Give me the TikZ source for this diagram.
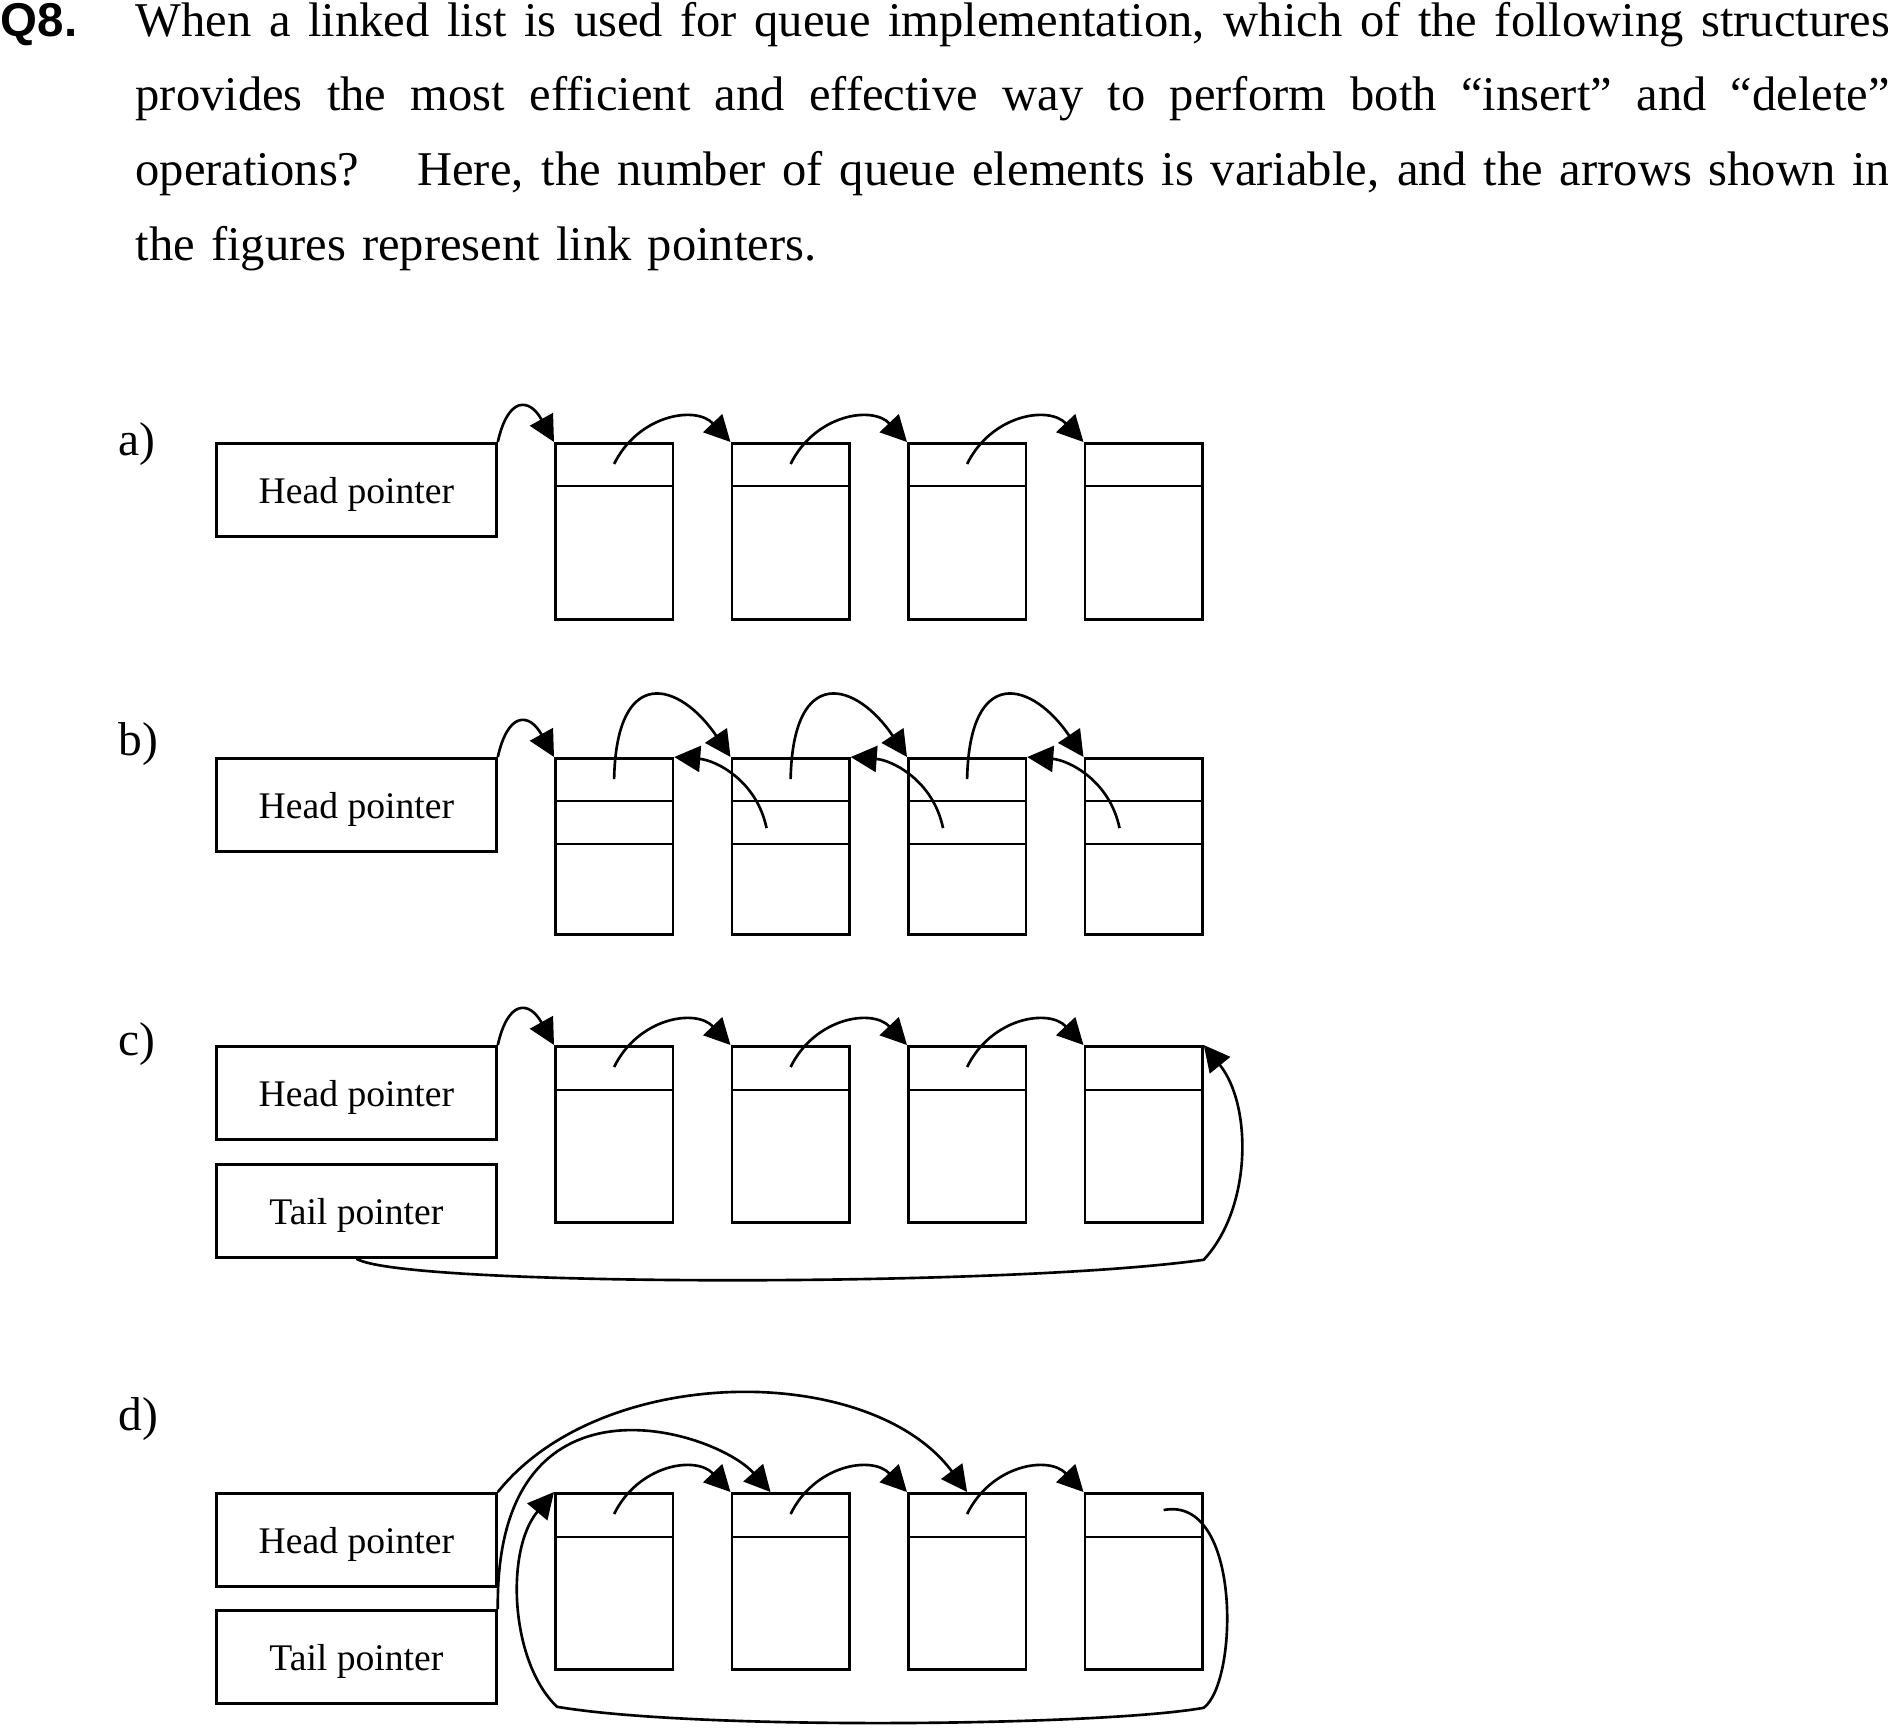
\documentclass[tikz,border=0pt]{standalone}
\usepackage{fontspec}
\setmainfont{Liberation Serif}
\newfontfamily\qfont{Liberation Sans}
\usepackage{tikz}
\usetikzlibrary{arrows.meta}

\tikzset{
  ptrbox/.style={draw, line width=0.75pt, minimum width=2.8cm, minimum height=0.93cm, anchor=north west,
    font=\fontsize{10.7}{12}\selectfont, text height=0.75em, text depth=0pt},
  elem/.style={draw, line width=0.75pt, minimum width=1.175cm, minimum height=1.76cm, anchor=north west, inner sep=0pt},
  link/.style={line width=0.75pt, -{Triangle[length=2.6mm,width=2.6mm]}},
  lbl/.style={anchor=base west, inner sep=0pt, font=\fontsize{13.5}{16}\selectfont},
}
\newcommand{\qline}[1]{\makebox[17.53cm][s]{\spaceskip=0.25em plus 1em minus 0.05em\xspaceskip=0.3em plus 1em minus 0.05em #1}}

\begin{document}
\begin{tikzpicture}[x=0.01cm, y=-0.01cm]
\useasboundingbox (0,0) rectangle (1888,1732);
% question
\node[anchor=base west, inner sep=0pt, font=\qfont\bfseries\fontsize{13.5}{16}\selectfont] (qnum) at (0,36.7) {Q8.};
\node[anchor=base west, inner sep=0pt, text width=17.53cm, align=left, font=\fontsize{13.8}{21.25}\selectfont] (qtext) at (135,36) {%
\qline{When a linked list is used for queue implementation, which of the following structures}\\
\qline{provides the most efficient and effective way to perform both “insert” and “delete”}\\
\qline{operations?\hspace{0.8em} Here, the number of queue elements is variable, and the arrows shown in}\\
the figures represent link pointers.};

% a)
\node[lbl] (labA) at (118,455) {a)};
\node[ptrbox] (headA) at (215,442) {Head pointer};
\foreach \i in {1,...,4} {
  \node[elem] (a\i) at ({554+176.5*(\i-1)},442) {};
  \draw[line width=0.75pt] ([yshift=-0.44cm]a\i.north west) -- ([yshift=-0.44cm]a\i.north east);
}
\draw[link] (headA.north east) .. controls +(10,-45) and +(-25,-45) .. (a1.north west);
\foreach \i/\j in {1/2,2/3,3/4}
  \draw[link] ([yshift=-0.22cm]a\i.north) .. controls +(24,-49) and +(-35,-37) .. (a\j.north west);

% b)
\node[lbl] (labB) at (118,755) {b)};
\node[ptrbox] (headB) at (215,757) {Head pointer};
\foreach \i in {1,...,4} {
  \node[elem] (b\i) at ({554+176.5*(\i-1)},757) {};
  \draw[line width=0.75pt] ([yshift=-0.44cm]b\i.north west) -- ([yshift=-0.44cm]b\i.north east);
  \draw[line width=0.75pt] ([yshift=-0.87cm]b\i.north west) -- ([yshift=-0.87cm]b\i.north east);
}
\draw[link] (headB.north east) .. controls +(10,-45) and +(-25,-45) .. (b1.north west);
\foreach \i/\j in {1/2,2/3,3/4} {
  \draw[link] ([yshift=-0.22cm]b\i.north) .. controls +(2.5,-116) and +(-50.5,-75) .. (b\j.north west);
  \draw[link] ([xshift=0.36cm,yshift=-0.71cm]b\j.north west) .. controls +(-10,-48) and +(41,3) .. (b\i.north east);
}

% c)
\node[lbl] (labC) at (118,1055) {c)};
\node[ptrbox] (headC) at (215,1045) {Head pointer};
\node[ptrbox] (tailC) at (215,1163) {Tail pointer};
\foreach \i in {1,...,4} {
  \node[elem] (c\i) at ({554+176.5*(\i-1)},1045) {};
  \draw[line width=0.75pt] ([yshift=-0.45cm]c\i.north west) -- ([yshift=-0.45cm]c\i.north east);
}
\draw[link] (headC.north east) .. controls +(10,-45) and +(-25,-45) .. (c1.north west);
\foreach \i/\j in {1/2,2/3,3/4}
  \draw[link] ([yshift=-0.22cm]c\i.north) .. controls +(24,-49) and +(-35,-37) .. (c\j.north west);
\draw[link] (tailC.south) .. controls +(45,28) and +(-200,28) .. ([yshift=-0.36cm]c4.south east)
  .. controls +(48.5,-52) and +(48.5,60) .. (c4.north east);

% d)
\node[lbl] (labD) at (118,1430) {d)};
\node[ptrbox] (headD) at (215,1492) {Head pointer};
\node[ptrbox] (tailD) at (215,1609) {Tail pointer};
\foreach \i in {1,...,4} {
  \node[elem] (d\i) at ({554+176.5*(\i-1)},1492) {};
  \draw[line width=0.75pt] ([yshift=-0.45cm]d\i.north west) -- ([yshift=-0.45cm]d\i.north east);
}
\foreach \i/\j in {1/2,2/3,3/4}
  \draw[link] ([yshift=-0.22cm]d\i.north) .. controls +(24,-49) and +(-35,-37) .. (d\j.north west);
\draw[link] (headD.north east) .. controls +(104,-130) and +(-96,-130) .. (d3.north);
\draw[link] (tailD.north east) .. controls +(-3,-249) and +(-55.5,-62) .. ([xshift=0.4cm]d2.north west);
\draw[link] ([xshift=0.2cm,yshift=-0.18cm]d4.north) .. controls +(78,-15) and +(35,-26) .. ([yshift=-0.37cm]d4.south east)
  .. controls +(-100,18) and +(143,24) .. ([xshift=0.03cm,yshift=-0.36cm]d1.south west)
  .. controls +(-47,-45) and +(-49,58) .. (d1.north west);
\end{tikzpicture}
\end{document}
